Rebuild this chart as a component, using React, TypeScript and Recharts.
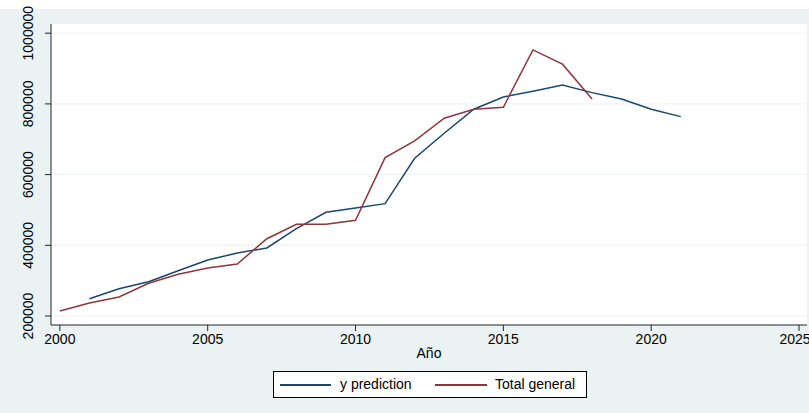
import { CartesianGrid, Line, LineChart, XAxis, YAxis } from "recharts";

const years = [
  2000, 2001, 2002, 2003, 2004, 2005, 2006, 2007, 2008, 2009, 2010, 2011,
  2012, 2013, 2014, 2015, 2016, 2017, 2018, 2019, 2020, 2021,
];

// Total general (observed), 2000-2018
const totalGeneral = [
  214000, 236800, 253700, 292500, 318000, 335800, 347100, 418700, 459500,
  459500, 470800, 648000, 695200, 759400, 784900, 790600, 952700, 912300,
  814000,
];

// y prediction, 2001-2021
const yPrediction = [
  248900, 277200, 297000, 328200, 358400, 378200, 392400, 447000, 493400,
  505600, 517800, 646300, 717000, 785000, 819700, 835900, 853700, 831900,
  814000, 785000, 764000,
];

const xTicks = [2000, 2005, 2010, 2015, 2020, 2025];
const yTicks = [200000, 400000, 600000, 800000, 1000000];

const NAVY = "#1a476f";
const MAROON = "#90353b";
const BG = "#eaf2f3";
const FONT = "Arial, 'Liberation Sans', Helvetica, sans-serif";

const data = years.map((year, i) => ({
  year,
  pred: i >= 1 ? yPrediction[i - 1] : null,
  total: i < totalGeneral.length ? totalGeneral[i] : null,
}));

function YTick({ y, payload }: { y?: number; payload?: { value: number } }) {
  return (
    <text
      x={33}
      y={y}
      transform={`rotate(-90 33 ${y})`}
      textAnchor="middle"
      fontSize={14}
      fontFamily={FONT}
      fill="#000"
    >
      {payload?.value}
    </text>
  );
}

export default function App() {
  return (
    <div
      style={{
        position: "absolute",
        left: 0,
        top: 0,
        width: 809,
        height: 413,
        background: BG,
        fontFamily: FONT,
      }}
    >
      <div style={{ position: "absolute", left: 0, top: 0, width: 809, height: 9, background: "#fff" }} />
      <LineChart
        width={809}
        height={413}
        data={data}
        margin={{ top: 24, right: 2, bottom: 58, left: 0 }}
      >
        <CartesianGrid fill="#fff" stroke={BG} vertical={false} horizontalValues={yTicks} />
        <XAxis
          dataKey="year"
          type="number"
          domain={[1999.7, 2025.27]}
          ticks={xTicks}
          allowDataOverflow
          height={30}
          stroke="#222"
          tickSize={6}
          tickMargin={3}
          tick={{ fontSize: 14, fill: "#000", fontFamily: FONT }}
        />
        <YAxis
          type="number"
          domain={[174600, 1026000]}
          ticks={yTicks}
          allowDataOverflow
          width={51}
          stroke="#222"
          tickSize={6}
          tick={<YTick />}
        />
        <Line
          dataKey="pred"
          stroke={NAVY}
          strokeWidth={1.5}
          dot={false}
          isAnimationActive={false}
        />
        <Line
          dataKey="total"
          stroke={MAROON}
          strokeWidth={1.5}
          dot={false}
          isAnimationActive={false}
        />
      </LineChart>
      <div
        style={{
          position: "absolute",
          left: 0,
          top: 345,
          width: 858,
          textAlign: "center",
          fontSize: 14,
        }}
      >
        Año
      </div>
      <div
        style={{
          position: "absolute",
          left: 273,
          top: 371,
          width: 312,
          height: 25,
          background: "#fff",
          border: "1px solid #000",
          fontSize: 14,
        }}
      >
        <div style={{ position: "absolute", left: 6, top: 12, width: 51, height: 1.5, background: NAVY }} />
        <div style={{ position: "absolute", left: 66, top: 4 }}>y prediction</div>
        <div style={{ position: "absolute", left: 161, top: 12, width: 52, height: 1.5, background: MAROON }} />
        <div style={{ position: "absolute", left: 221, top: 4 }}>Total general</div>
      </div>
    </div>
  );
}
